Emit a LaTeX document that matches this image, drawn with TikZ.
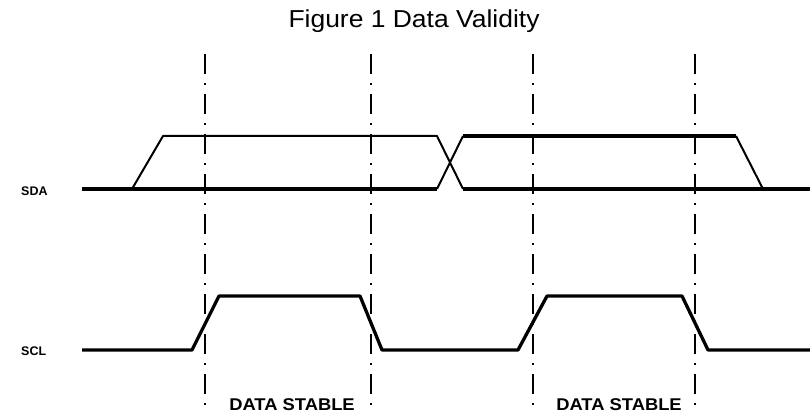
\documentclass[tikz,border=0pt]{standalone}
\usepackage{fontspec}
\setmainfont{Liberation Sans}

\begin{document}
\begin{tikzpicture}[x=1pt, y=-1pt, line join=round,
    bold wave/.style={line width=3.3pt},
    thin wave/.style={line width=2pt},
    guide/.style={line width=2.8pt, dash pattern=on 20pt off 9pt on 2pt off 9pt},
    sig/.style={font=\bfseries\fontsize{12.5}{14}\selectfont, anchor=base west, inner sep=0pt},
    stable/.style={font=\bfseries\fontsize{17}{20}\selectfont, xscale=1.08, anchor=base, inner sep=0pt}]
  \useasboundingbox (0,0) rectangle (810,414);
  % title
  \node[anchor=base, inner sep=0pt, xscale=1.08, font=\fontsize{24.5}{30}\selectfont] (title) at (414,28) {Figure 1 Data Validity};
  % guides
  \foreach \x in {205,371,533,695} {
    \draw[guide] (\x,54) -- (\x,414);
  }
  % SDA
  \node[sig] (sda) at (21,195) {SDA};
  \draw[bold wave] (82,189) -- (437,189);
  \draw[bold wave] (463,189) -- (810,189);
  \draw[thin wave] (132,189) -- (163,136) -- (437,136) -- (463,189);
  \draw[thin wave] (437,189) -- (463,136);
  \draw[bold wave] (463,136) -- (736,136);
  \draw[thin wave] (736,136) -- (763,189);
  % SCL
  \node[sig] (scl) at (21,355) {SCL};
  \draw[bold wave] (82,350) -- (192,350) -- (219,296) -- (360,296) -- (382,350)
    -- (518,350) -- (547,296) -- (682,296) -- (708,350) -- (810,350);
  % stable windows
  \node[stable] (stableA) at (292,410) {DATA STABLE};
  \node[stable] (stableB) at (619,410) {DATA STABLE};
\end{tikzpicture}
\end{document}
